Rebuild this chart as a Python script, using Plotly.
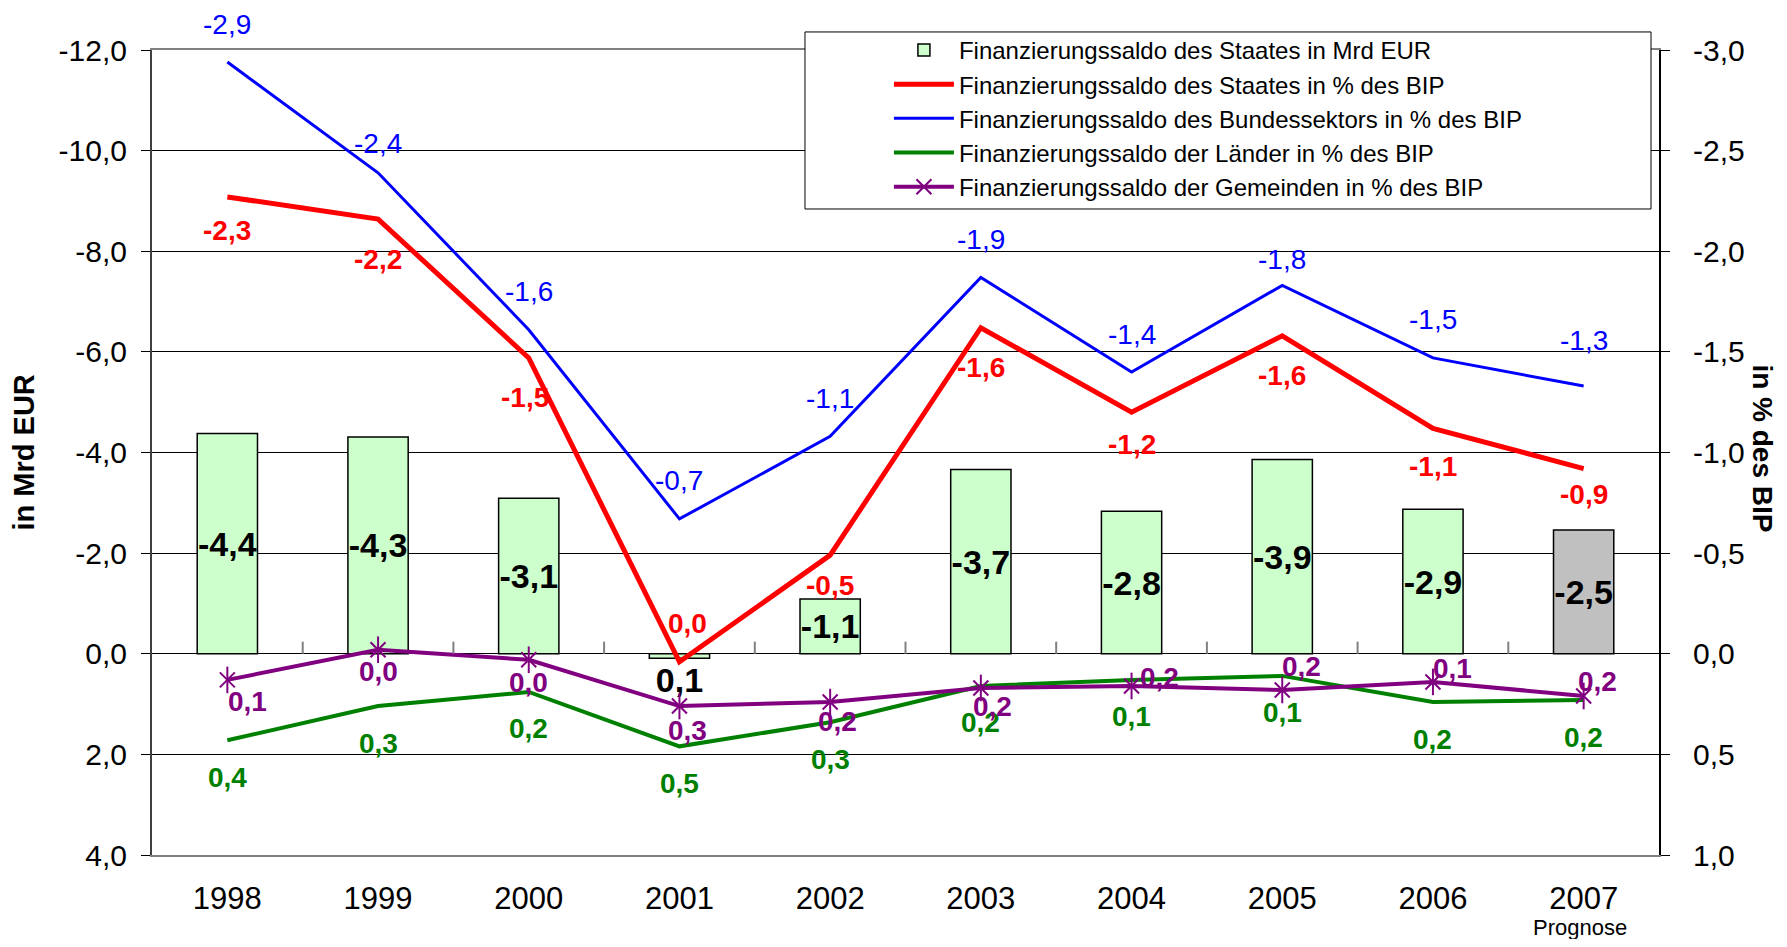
import plotly.graph_objects as go

years = ["1998", "1999", "2000", "2001", "2002", "2003", "2004", "2005", "2006", "2007"]
staat_mrd = [-4.38, -4.31, -3.09, 0.09, -1.09, -3.66, -2.83, -3.86, -2.87, -2.46]
staat_pct = [-2.27, -2.16, -1.47, 0.04, -0.49, -1.62, -1.20, -1.58, -1.12, -0.92]
bund_pct = [-2.94, -2.39, -1.61, -0.67, -1.08, -1.87, -1.40, -1.83, -1.47, -1.33]
laender_pct = [0.43, 0.26, 0.19, 0.46, 0.34, 0.16, 0.13, 0.11, 0.24, 0.23]
gemeinden_pct = [0.13, -0.02, 0.03, 0.26, 0.24, 0.17, 0.16, 0.18, 0.14, 0.21]
left_ticks = [-12, -10, -8, -6, -4, -2, 0, 2, 4]
right_ticks = [-3.0, -2.5, -2.0, -1.5, -1.0, -0.5, 0.0, 0.5, 1.0]
prognose_year = "2007"

names = [
    "Finanzierungssaldo des Staates in Mrd EUR",
    "Finanzierungssaldo des Staates in % des BIP",
    "Finanzierungssaldo des Bundessektors in % des BIP",
    "Finanzierungssaldo der Länder in % des BIP",
    "Finanzierungssaldo der Gemeinden in % des BIP",
]


def fmt(v):
    r = round(v, 1)
    if r == 0:
        r = 0.0
    return f"{r:.1f}".replace(".", ",")


SANS = "Liberation Sans, Arial, sans-serif"

bar_colors = ["#CCFFCC"] * 9 + ["#C0C0C0"]
bar_textpos = ["outside" if v > 0 else "inside" for v in staat_mrd]

fig = go.Figure()
fig.add_trace(go.Bar(
    x=years, y=staat_mrd, name=names[0], yaxis="y",
    marker=dict(color=bar_colors, line=dict(color="black", width=1.5)),
    width=0.4,
    text=[fmt(v) for v in staat_mrd], textposition=bar_textpos, textangle=0,
    insidetextanchor="middle", constraintext="none",
    textfont=dict(family=SANS, size=34, color="black", weight="bold"),
    cliponaxis=False,
))
fig.add_trace(go.Scatter(
    x=years, y=staat_pct, name=names[1], yaxis="y2", mode="lines",
    line=dict(color="#FF0000", width=5),
))
fig.add_trace(go.Scatter(
    x=years, y=bund_pct, name=names[2], yaxis="y2", mode="lines",
    line=dict(color="#0000FF", width=3),
))
fig.add_trace(go.Scatter(
    x=years, y=laender_pct, name=names[3], yaxis="y2", mode="lines",
    line=dict(color="#008000", width=4),
))
fig.add_trace(go.Scatter(
    x=years, y=gemeinden_pct, name=names[4], yaxis="y2", mode="lines+markers",
    line=dict(color="#800080", width=4),
    marker=dict(symbol="x-thin-open", size=15, color="#800080",
                line=dict(color="#800080", width=2)),
))
fig.add_trace(go.Scatter(
    x=years, y=gemeinden_pct, yaxis="y2", mode="markers", showlegend=False,
    marker=dict(symbol="line-ns-open", size=19, color="#800080",
                line=dict(color="#800080", width=2)),
    hoverinfo="skip",
))

annotations = []
# label offsets in pixels (style only)
red_shift = [-34, -40, -40, 38, -30, -40, -32, -40, -38, -26]
red_dx = [0, 0, -4, 8, 0, 0, 0, 0, 0, 0]
blue_shift = [38, 29, 38, 38, 38, 38, 38, 26, 38, 46]
pur_dx = [20, 0, 0, 8, 7, 12, 28, 19, 20, 14]
pur_dy = [-22, -22, -23, -24, -19, -19, 8, 23, 13, 15]
for i, yr in enumerate(years):
    annotations.append(dict(x=i, y=staat_pct[i], xref="x", yref="y2", text=fmt(staat_pct[i]),
                            showarrow=False, yshift=red_shift[i], xshift=red_dx[i],
                            font=dict(family=SANS, size=28, color="#FF0000", weight="bold")))
    annotations.append(dict(x=i, y=bund_pct[i], xref="x", yref="y2", text=fmt(bund_pct[i]),
                            showarrow=False, yshift=blue_shift[i],
                            font=dict(family=SANS, size=28, color="#0000FF")))
    annotations.append(dict(x=i, y=laender_pct[i], xref="x", yref="y2", text=fmt(laender_pct[i]),
                            showarrow=False, yshift=-37,
                            font=dict(family=SANS, size=28, color="#008000", weight="bold")))
    annotations.append(dict(x=i, y=gemeinden_pct[i], xref="x", yref="y2", text=fmt(gemeinden_pct[i]),
                            showarrow=False, yshift=pur_dy[i], xshift=pur_dx[i],
                            font=dict(family=SANS, size=28, color="#800080", weight="bold")))

annotations.append(dict(x=years.index(prognose_year), y=-0.0895, xref="x", yref="paper",
                        text="Prognose", showarrow=False, yanchor="middle", xanchor="center",
                        xshift=-4, font=dict(family=SANS, size=22, color="black")))
annotations.append(dict(x=-0.0856, y=0.5, xref="paper", yref="paper", text="<b>in Mrd EUR</b>",
                        showarrow=False, textangle=-90, xanchor="center", yanchor="middle",
                        font=dict(family=SANS, size=29, color="black")))
annotations.append(dict(x=1.0684, y=0.505, xref="paper", yref="paper", text="<b>in % des BIP</b>",
                        showarrow=False, textangle=90, xanchor="center", yanchor="middle",
                        font=dict(family=SANS, size=28, color="black")))

shapes = [dict(type="rect", xref="paper", yref="paper", x0=0.4333, x1=0.9947, y0=0.8025, y1=1.0224,
               fillcolor="white", line=dict(color="black", width=1), layer="above")]
n = len(years)
for i in range(1, n):
    shapes.append(dict(type="line", xref="paper", yref="y",
                       x0=i / n, x1=i / n, y0=0, y1=-0.24,
                       line=dict(color="#808080", width=2), layer="above"))

fig.update_layout(
    width=1771, height=931,
    margin=dict(l=144, r=120, t=42, b=84),
    paper_bgcolor="white", plot_bgcolor="white",
    showlegend=True,
    legend=dict(x=0.489, y=1.0275, xanchor="left", yanchor="top",
                bgcolor="rgba(0,0,0,0)", borderwidth=0,
                font=dict(family=SANS, size=24, color="black"),
                itemwidth=60, tracegroupgap=0),
    xaxis=dict(type="category", range=[-0.5, 9.5], showgrid=False, zeroline=False,
               showline=True, linecolor="#808080", linewidth=2, mirror=True,
               ticks="", ticklabelstandoff=15,
               tickfont=dict(family=SANS, size=31, color="black")),
    yaxis=dict(range=[4, -12], tickmode="array", tickvals=left_ticks,
               ticktext=[fmt(v) for v in left_ticks],
               showgrid=True, gridcolor="black", gridwidth=1,
               zeroline=True, zerolinecolor="black", zerolinewidth=1,
               showline=True, linecolor="#404040", linewidth=2,
               ticks="outside", ticklen=9, tickcolor="black", ticklabelstandoff=8,
               tickfont=dict(family=SANS, size=30, color="black")),
    yaxis2=dict(range=[1, -3], tickmode="array", tickvals=right_ticks,
                ticktext=[fmt(v) for v in right_ticks], overlaying="y", side="right",
                showgrid=False, zeroline=False,
                showline=True, linecolor="black", linewidth=2,
                ticks="outside", ticklen=9, tickcolor="black", ticklabelstandoff=17,
                tickfont=dict(family=SANS, size=30, color="black")),
    annotations=annotations,
    shapes=shapes,
)

fig.write_html("out.html")
